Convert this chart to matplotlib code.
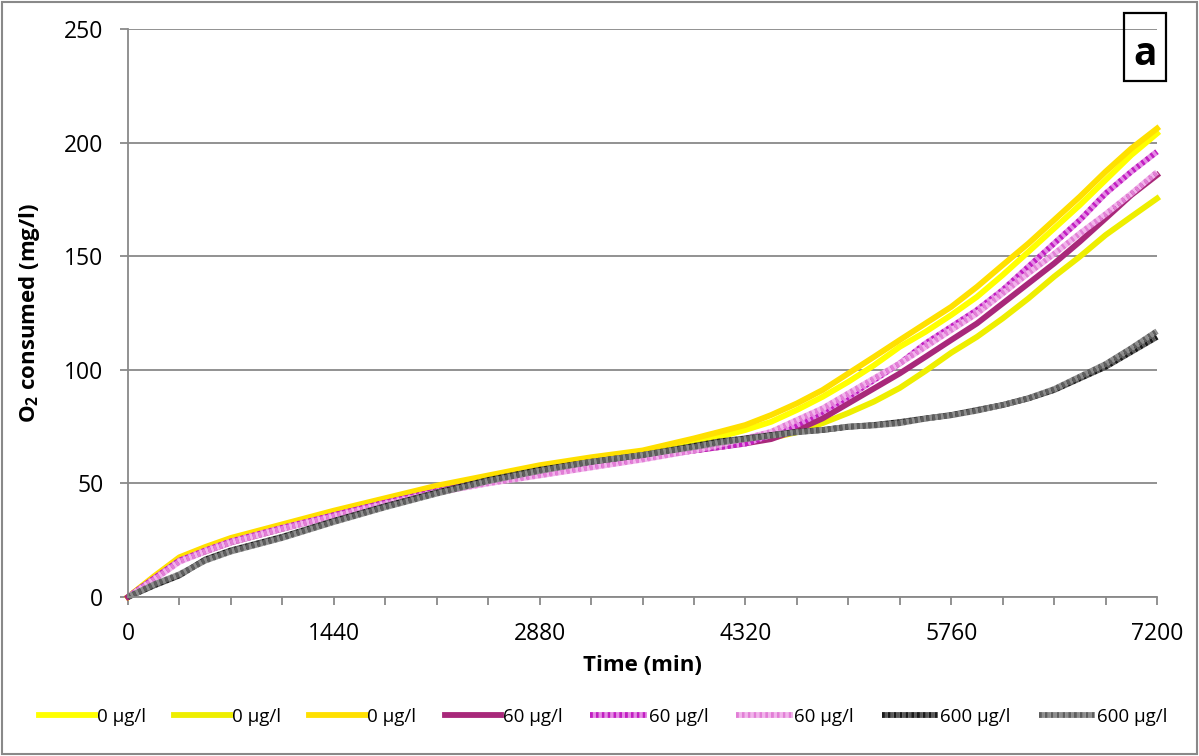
import numpy as np
import matplotlib.pyplot as plt
from matplotlib.patches import Rectangle

plt.rcParams['font.family'] = ['Open Sans', 'DejaVu Sans']
plt.rcParams['mathtext.fontset'] = 'custom'
plt.rcParams['mathtext.rm'] = 'Open Sans'
plt.rcParams['mathtext.bf'] = 'Open Sans:bold'

# time axis (min): coarse at the start, every 180 min where the curves split
time = [0, 180, 360, 540, 720, 1080, 1440, 1800, 2160, 2520, 2880, 3240, 3600,
        3960, 4140, 4320, 4500, 4680, 4860, 5040, 5220, 5400, 5580, 5760,
        5940, 6120, 6300, 6480, 6660, 6840, 7020, 7200]

# O2 consumed (mg/l)
y0_a = [0, 8.5, 17, 21.5, 25.5, 31.5, 37.5, 43, 48.5, 53, 57.5, 61, 64,
        68.3, 70.5, 73.5, 77.1, 82.3, 88.1, 94.7, 102, 110.1, 116.7, 124.1,
        132.1, 141.7, 151.9, 162.2, 172.5, 183.5, 194.5, 204]
y0_b = [0, 8.5, 17, 21, 25, 31, 37, 42.5, 48, 52.5, 57, 60.5, 63,
        65.5, 66.5, 68, 70, 72.5, 76.5, 81, 86, 92, 99.5, 107.5,
        114.5, 122.6, 131.4, 141, 149.8, 159.3, 167.4, 175.4]
y0_c = [0, 9, 17.5, 22, 26, 32, 38, 43.5, 49, 53.5, 58, 61.5, 64.5,
        69.8, 72.7, 75.7, 80.1, 85.2, 91.1, 98.4, 105.7, 113.1, 120.4, 127.7,
        136.5, 146.1, 155.6, 165.9, 176.2, 187.2, 197.4, 206.2]
y60_a = [0, 8, 16, 20, 24, 30, 36, 41.5, 46.5, 51, 54.5, 58, 61.5,
         64.5, 66, 67.6, 69.5, 73.5, 78.6, 85.2, 91.8, 98.4, 105.7, 113.1,
         120.4, 129.2, 138, 146.8, 156.4, 166.6, 176.9, 185.7]
y60_b = [0, 8, 16, 20.5, 24.5, 30.5, 36, 41.5, 46.5, 50.5, 54, 57.5, 61,
         64.5, 66, 67.5, 71.3, 75.7, 81.5, 88.1, 95.5, 102.8, 111.6, 118.9,
         126.3, 135.1, 145.4, 155.6, 165.9, 177.6, 187.2, 196]
y60_c = [0, 7.5, 15.5, 20, 24, 30, 35.5, 41, 46, 50, 53.5, 57, 60.5,
         64.5, 67, 69.8, 72.7, 77.9, 83, 89.6, 96.2, 102.8, 110.1, 117.5,
         124.8, 133.6, 142.5, 151, 160, 168.5, 177.5, 187]
y600_a = [0, 5, 9.5, 16.5, 20.5, 26.5, 33.5, 40, 46, 51.5, 56, 59.5, 62.5,
          66.5, 68.5, 69.8, 71.3, 72.7, 73.5, 74.9, 75.7, 77, 78.6, 80.1,
          82.3, 84.5, 87.4, 91.1, 96.2, 101.3, 107.9, 114.5]
y600_b = [0, 5.5, 10, 16, 20, 26, 33, 39.5, 45.5, 51, 55.5, 59.5, 62.5,
          66, 68, 69.5, 71, 72.5, 73.5, 75, 75.5, 76.5, 78.5, 80,
          82, 84.5, 87.5, 91.5, 97, 102.5, 109.5, 117]

labels = ['0 µg/l', '0 µg/l', '0 µg/l', '60 µg/l', '60 µg/l', '60 µg/l',
          '600 µg/l', '600 µg/l']

grid_c = '#898989'
lw = 4.2

fig = plt.figure(figsize=(11.99, 7.56), dpi=100)
ax = fig.add_axes([128/1199, 1 - 597/756, 1029/1199, 568/756])

series = [
    (y0_a, dict(color='#FFFF00')),
    (y0_b, dict(color='#EEEE00')),
    (y0_c, dict(color='#FFE000')),
    (y60_a, dict(color='#A8287A')),
    (y60_b, dict(color='#C21EC2', gapcolor='#E58AE5', ls=(0, (0.5, 0.5)))),
    (y60_c, dict(color='#E27ED6', gapcolor='#F2B4EC', ls=(0, (0.5, 0.5)))),
    (y600_a, dict(color='#1A1A1A', gapcolor='#5A5A5A', ls=(0, (0.5, 0.5)))),
    (y600_b, dict(color='#5E5E5E', gapcolor='#8E8E8E', ls=(0, (0.5, 0.5)))),
]
for (vals, style), lab in zip(series, labels):
    ax.plot(time, vals, lw=lw, label=lab, clip_on=False,
            solid_joinstyle='round', dash_joinstyle='round', **style)

ax.set_xlim(0, 7200)
ax.set_ylim(0, 250)
ax.set_xticks(np.arange(0, 7201, 1440))
ax.set_xticks(np.arange(0, 7201, 360), minor=True)
ax.set_yticks(np.arange(0, 251, 50))
ax.tick_params(which='both', direction='out', length=5.8, width=1.3,
               color=grid_c, labelsize=16.5, pad=12)
ax.yaxis.grid(True, color=grid_c, lw=1.3)
ax.set_axisbelow(True)
for s in ['top', 'right']:
    ax.spines[s].set_visible(False)
for s in ['left', 'bottom']:
    ax.spines[s].set_color(grid_c)
    ax.spines[s].set_linewidth(1.3)

ax.set_xlabel('Time (min)', fontsize=16, fontweight='bold', labelpad=7)
ax.set_ylabel(r'$\mathbf{O_2}$ consumed (mg/l)', fontsize=16,
              fontweight='bold', labelpad=16)

ax.legend(loc='center', bbox_to_anchor=(0.503, 0.052),
          bbox_transform=fig.transFigure, ncol=8, frameon=False,
          fontsize=13.5, handlelength=3.0, handletextpad=0.1,
          columnspacing=1.5)

# panel letter box
fig.patches.append(Rectangle((1124/1199, 1 - 81/756), 42/1199, 68/756,
                             transform=fig.transFigure, fill=False,
                             edgecolor='black', lw=1.6))
fig.text(1145/1199, 1 - 65/756, 'a', fontsize=28, fontweight='bold',
         ha='center', va='baseline')

# outer frame
fig.patches.append(Rectangle((2/1199, 2/756), 1195/1199, 752/756,
                             transform=fig.transFigure, fill=False,
                             edgecolor=grid_c, lw=1.5))

fig.savefig('out.png', dpi=100)
